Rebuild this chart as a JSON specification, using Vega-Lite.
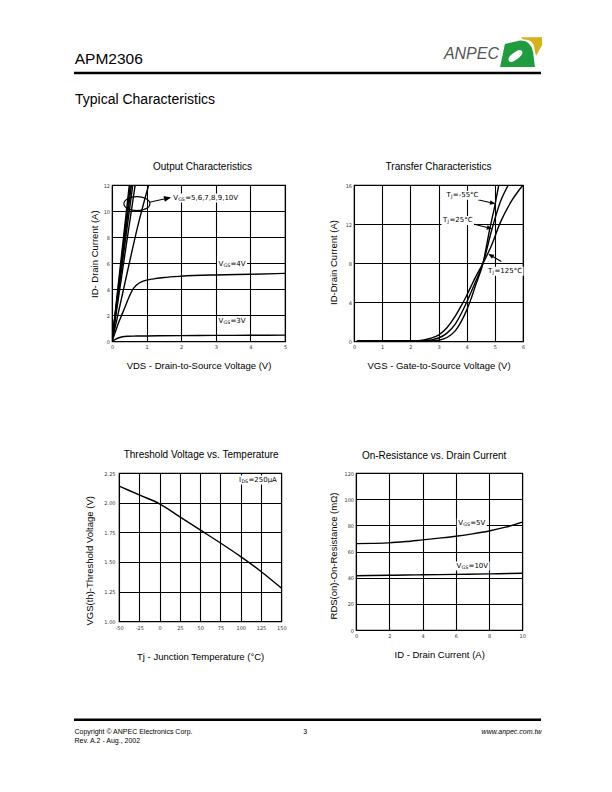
{
  "$schema": "https://vega.github.io/schema/vega-lite/v6.json",
  "background": "white",
  "padding": {"left": 72, "top": 30, "right": 10, "bottom": 10},
  "bounds": "flush",
  "spacing": 0,
  "config": {
    "view": {"stroke": null},
    "font": "Liberation Sans",
    "axis": {"domain": false, "ticks": false, "grid": true, "gridColor": "black", "gridOpacity": 1, "gridWidth": 1.1, "tickCount": 50, "labelFont": "DejaVu Sans", "labelFontSize": 5, "labelColor": "#333", "labelPadding": 3.5, "labelFlush": false, "labelOverlap": false, "titleFont": "Liberation Sans", "titleFontSize": 9.5, "titleFontWeight": "normal", "titleColor": "black"},
    "axisY": {"labelPadding": 2.5},
    "title": {"font": "Liberation Sans", "fontSize": 10, "fontWeight": "normal", "color": "black", "anchor": "middle", "frame": "group", "baseline": "alphabetic"}
  },
  "vconcat": [
    {
      "width": 467,
      "height": 85,
      "layer": [
        {
          "data": {"values": [{"label": "APM2306"}]},
          "mark": {"type": "text", "align": "left", "baseline": "alphabetic", "fontSize": 15.5, "font": "Liberation Sans", "color": "black"},
          "encoding": {
            "x": {"datum": 0.7, "type": "quantitative", "scale": {"domain": [0, 467], "nice": false, "zero": false}, "axis": null},
            "y": {"datum": 34.3, "type": "quantitative", "scale": {"domain": [0, 85], "nice": false, "zero": false, "reverse": true}, "axis": null},
            "text": {"field": "label"}
          }
        },
        {
          "data": {"values": [{"label": "ANPEC"}]},
          "mark": {"type": "text", "align": "right", "baseline": "alphabetic", "fontSize": 16, "fontStyle": "italic", "font": "Liberation Sans", "color": "#555555"},
          "encoding": {
            "x": {"datum": 425, "type": "quantitative", "scale": {"domain": [0, 467], "nice": false, "zero": false}, "axis": null},
            "y": {"datum": 29.3, "type": "quantitative", "scale": {"domain": [0, 85], "nice": false, "zero": false, "reverse": true}, "axis": null},
            "text": {"field": "label"}
          }
        },
        {
          "data": {"values": [{"part": "yellow"}]},
          "mark": {"type": "point", "shape": "M -0.02 -0.7 L 0.98 -0.7 L 0.98 -0.33 L 0.69 0.19 L 0.6 -0.24 Q 0.55 -0.62 0.07 -0.6 Z", "filled": true, "color": "#d5b11e", "size": 1764, "strokeWidth": 0, "opacity": 1},
          "encoding": {
            "x": {"datum": 447.5, "type": "quantitative", "scale": {"domain": [0, 467], "nice": false, "zero": false}, "axis": null},
            "y": {"datum": 22, "type": "quantitative", "scale": {"domain": [0, 85], "nice": false, "zero": false, "reverse": true}, "axis": null}
          }
        },
        {
          "data": {"values": [{"part": "green"}]},
          "mark": {"type": "point", "shape": "M -0.79 -0.38 L -0.07 -0.55 Q 0.45 -0.57 0.55 0 L 0.64 0.71 L -1.02 0.71 Z", "filled": true, "color": "#1f9c3e", "size": 1764, "strokeWidth": 0, "opacity": 1},
          "encoding": {
            "x": {"datum": 447.5, "type": "quantitative", "scale": {"domain": [0, 467], "nice": false, "zero": false}, "axis": null},
            "y": {"datum": 22, "type": "quantitative", "scale": {"domain": [0, 85], "nice": false, "zero": false, "reverse": true}, "axis": null}
          }
        },
        {
          "data": {"values": [{"part": "leaf"}]},
          "mark": {"type": "point", "shape": "M -0.6 0.43 Q -0.7 0.295 -0.4 0.065 Q -0.08 -0.185 0.02 -0.05 Q 0.12 0.085 -0.2 0.335 Q -0.5 0.565 -0.6 0.43 Z", "filled": true, "color": "white", "size": 1764, "strokeWidth": 0, "opacity": 1},
          "encoding": {
            "x": {"datum": 447.5, "type": "quantitative", "scale": {"domain": [0, 467], "nice": false, "zero": false}, "axis": null},
            "y": {"datum": 22, "type": "quantitative", "scale": {"domain": [0, 85], "nice": false, "zero": false, "reverse": true}, "axis": null}
          }
        },
        {
          "data": {"values": [{"part": "rule"}]},
          "mark": {"type": "rule", "color": "black", "strokeWidth": 2.6},
          "encoding": {
            "x": {"datum": 0, "type": "quantitative", "scale": {"domain": [0, 467], "nice": false, "zero": false}, "axis": null},
            "x2": {"datum": 467},
            "y": {"datum": 43, "type": "quantitative", "scale": {"domain": [0, 85], "nice": false, "zero": false, "reverse": true}, "axis": null}
          }
        },
        {
          "data": {"values": [{"label": "Typical Characteristics"}]},
          "mark": {"type": "text", "align": "left", "baseline": "alphabetic", "fontSize": 14, "font": "Liberation Sans", "color": "black"},
          "encoding": {
            "x": {"datum": 1, "type": "quantitative", "scale": {"domain": [0, 467], "nice": false, "zero": false}, "axis": null},
            "y": {"datum": 73.5, "type": "quantitative", "scale": {"domain": [0, 85], "nice": false, "zero": false, "reverse": true}, "axis": null},
            "text": {"field": "label"}
          }
        }
      ]
    },
    {"width": 1, "height": 69.3, "data": {"values": []}, "mark": "point"},
    {
      "bounds": "flush",
      "spacing": 0,
      "hconcat": [
        {"width": 37.3, "height": 1, "data": {"values": []}, "mark": "point"},
        {
          "width": 173,
          "height": 156.4,
          "view": {"stroke": "black", "strokeWidth": 1.2},
          "title": {"text": "Output Characteristics", "offset": 10.8, "dx": 4},
          "layer": [
            {
              "data": {"values": [
                {"vgs": "3V", "vds": 0, "id": 0}, {"vgs": "3V", "vds": 0.1, "id": 0.15}, {"vgs": "3V", "vds": 0.2, "id": 0.28}, {"vgs": "3V", "vds": 0.3, "id": 0.36}, {"vgs": "3V", "vds": 0.45, "id": 0.4}, {"vgs": "3V", "vds": 0.7, "id": 0.41}, {"vgs": "3V", "vds": 1, "id": 0.42}, {"vgs": "3V", "vds": 2, "id": 0.44}, {"vgs": "3V", "vds": 3, "id": 0.46}, {"vgs": "3V", "vds": 4, "id": 0.47}, {"vgs": "3V", "vds": 5, "id": 0.48},
                {"vgs": "4V", "vds": 0, "id": 0}, {"vgs": "4V", "vds": 0.1, "id": 0.75}, {"vgs": "4V", "vds": 0.2, "id": 1.5}, {"vgs": "4V", "vds": 0.3, "id": 2.15}, {"vgs": "4V", "vds": 0.4, "id": 2.8}, {"vgs": "4V", "vds": 0.5, "id": 3.45}, {"vgs": "4V", "vds": 0.6, "id": 4.0}, {"vgs": "4V", "vds": 0.7, "id": 4.3}, {"vgs": "4V", "vds": 0.8, "id": 4.5}, {"vgs": "4V", "vds": 0.9, "id": 4.62}, {"vgs": "4V", "vds": 1.2, "id": 4.8}, {"vgs": "4V", "vds": 1.5, "id": 4.9}, {"vgs": "4V", "vds": 2, "id": 5.0}, {"vgs": "4V", "vds": 3, "id": 5.1}, {"vgs": "4V", "vds": 4, "id": 5.15}, {"vgs": "4V", "vds": 5, "id": 5.22},
                {"vgs": "5V", "vds": 0, "id": 0}, {"vgs": "5V", "vds": 0.45, "id": 5.4}, {"vgs": "5V", "vds": 0.75, "id": 8.9}, {"vgs": "5V", "vds": 1.06, "id": 12},
                {"vgs": "6V", "vds": 0, "id": 0}, {"vgs": "6V", "vds": 0.67, "id": 12},
                {"vgs": "7V", "vds": 0, "id": 0}, {"vgs": "7V", "vds": 0.6, "id": 12},
                {"vgs": "8V", "vds": 0, "id": 0}, {"vgs": "8V", "vds": 0.56, "id": 12},
                {"vgs": "9V", "vds": 0, "id": 0}, {"vgs": "9V", "vds": 0.53, "id": 12},
                {"vgs": "10V", "vds": 0, "id": 0}, {"vgs": "10V", "vds": 0.5, "id": 12}
              ]},
              "mark": {"type": "line", "interpolate": "monotone", "clip": true, "color": "black", "strokeWidth": 1.4},
              "encoding": {
                "x": {"field": "vds", "type": "quantitative", "scale": {"domain": [0, 5], "nice": false, "zero": false}, "axis": {"values": [0, 1, 2, 3, 4, 5], "tickCount": 50, "format": "d", "title": "VDS - Drain-to-Source Voltage (V)", "titleBaseline": "alphabetic", "titleY": 27}},
                "y": {"field": "id", "type": "quantitative", "scale": {"domain": [0, 12], "nice": false, "zero": false}, "axis": {"values": [0, 2, 4, 6, 8, 10, 12], "tickCount": 50, "format": "d", "title": "ID- Drain Current (A)", "titleBaseline": "alphabetic", "titleX": -14.8, "titleY": 68.7}},
                "detail": {"field": "vgs", "type": "nominal"}
              }
            },
            {
              "data": {"values": [{"vds": 0.72, "id": 10.57}]},
              "mark": {"type": "point", "shape": "M -1 0 A 1 0.54 0 1 0 1 0 A 1 0.54 0 1 0 -1 0 Z", "filled": false, "color": "black", "strokeWidth": 1.2, "size": 676, "opacity": 1},
              "encoding": {"x": {"field": "vds", "type": "quantitative"}, "y": {"field": "id", "type": "quantitative"}}
            },
            {
              "data": {"values": [{"vds": 1.08, "id": 10.67, "vds2": 1.67, "id2": 11.02}]},
              "mark": {"type": "rule", "color": "black", "strokeWidth": 1.1},
              "encoding": {"x": {"field": "vds", "type": "quantitative"}, "y": {"field": "id", "type": "quantitative"}, "x2": {"field": "vds2"}, "y2": {"field": "id2"}}
            },
            {
              "data": {"values": [{"vds": 1.705, "id": 11.05}]},
              "mark": {"type": "point", "shape": "M 0 0 L -1 -0.42 L -1 0.42 Z", "filled": true, "color": "black", "size": 196, "angle": -13, "strokeWidth": 0, "opacity": 1},
              "encoding": {"x": {"field": "vds", "type": "quantitative"}, "y": {"field": "id", "type": "quantitative"}}
            },
            {
              "data": {"values": [
                {"pre": "V", "sub": "GS", "rest": "=5,6,7,8,9,10V", "full": "VGS=5,6,7,8,9,10V", "vds": 1.77, "id": 11.0},
                {"pre": "V", "sub": "GS", "rest": "=4V", "full": "VGS=4V", "vds": 3.08, "id": 5.94},
                {"pre": "V", "sub": "GS", "rest": "=3V", "full": "VGS=3V", "vds": 3.08, "id": 1.53}
              ]},
              "encoding": {"x": {"field": "vds", "type": "quantitative"}, "y": {"field": "id", "type": "quantitative"}},
              "layer": [
                {"mark": {"type": "point", "filled": true, "color": "white", "size": 10000, "strokeWidth": 0, "opacity": 1}, "encoding": {"shape": {"field": "full", "type": "nominal", "legend": null, "scale": {"domain": ["VGS=5,6,7,8,9,10V", "VGS=4V", "VGS=3V", "TJ=-55°C", "TJ=25°C", "TJ=125°C", "IDS=250µA", "VGS=5V", "VGS=10V"], "range": ["M -0.03 -0.09 L 1.33 -0.09 L 1.33 0.09 L -0.03 0.09 Z", "M -0.03 -0.09 L 0.57 -0.09 L 0.57 0.09 L -0.03 0.09 Z", "M -0.03 -0.09 L 0.57 -0.09 L 0.57 0.09 L -0.03 0.09 Z", "M -0.03 -0.09 L 0.67 -0.09 L 0.67 0.09 L -0.03 0.09 Z", "M -0.03 -0.09 L 0.62 -0.09 L 0.62 0.09 L -0.03 0.09 Z", "M -0.03 -0.09 L 0.71 -0.09 L 0.71 0.09 L -0.03 0.09 Z", "M -0.03 -0.09 L 0.79 -0.09 L 0.79 0.09 L -0.03 0.09 Z", "M -0.03 -0.09 L 0.57 -0.09 L 0.57 0.09 L -0.03 0.09 Z", "M -0.03 -0.09 L 0.66 -0.09 L 0.66 0.09 L -0.03 0.09 Z"]}}}},
                {"mark": {"type": "text", "align": "left", "baseline": "middle", "font": "DejaVu Sans", "fontSize": 7, "color": "black"}, "encoding": {"text": {"field": "pre"}}},
                {"mark": {"type": "text", "align": "left", "baseline": "middle", "font": "DejaVu Sans", "fontSize": 4.8, "dx": 4.9, "dy": 1.6, "color": "black"}, "encoding": {"text": {"field": "sub"}}},
                {"mark": {"type": "text", "align": "left", "baseline": "middle", "font": "DejaVu Sans", "fontSize": 7, "dx": 11.9, "color": "black"}, "encoding": {"text": {"field": "rest"}}}
              ]
            }
          ]
        },
        {"width": 68.7, "height": 1, "data": {"values": []}, "mark": "point"},
        {
          "width": 169,
          "height": 156.4,
          "view": {"stroke": "black", "strokeWidth": 1.2},
          "title": {"text": "Transfer Characteristics", "offset": 11.2},
          "layer": [
            {
              "data": {"values": [
                {"tj": "-55°C", "vgs": 0.1, "id": 0.05}, {"tj": "-55°C", "vgs": 2.7, "id": 0.05}, {"tj": "-55°C", "vgs": 3.0, "id": 0.12}, {"tj": "-55°C", "vgs": 3.3, "id": 0.4}, {"tj": "-55°C", "vgs": 3.6, "id": 1.1}, {"tj": "-55°C", "vgs": 3.8, "id": 2.0}, {"tj": "-55°C", "vgs": 4.0, "id": 3.2}, {"tj": "-55°C", "vgs": 4.15, "id": 4.3}, {"tj": "-55°C", "vgs": 4.3, "id": 5.6}, {"tj": "-55°C", "vgs": 4.58, "id": 8.0}, {"tj": "-55°C", "vgs": 4.82, "id": 11.5}, {"tj": "-55°C", "vgs": 5.0, "id": 13.9}, {"tj": "-55°C", "vgs": 5.14, "id": 16},
                {"tj": "25°C", "vgs": 0.1, "id": 0.05}, {"tj": "25°C", "vgs": 2.5, "id": 0.07}, {"tj": "25°C", "vgs": 3.0, "id": 0.35}, {"tj": "25°C", "vgs": 3.3, "id": 0.85}, {"tj": "25°C", "vgs": 3.6, "id": 1.8}, {"tj": "25°C", "vgs": 3.8, "id": 2.8}, {"tj": "25°C", "vgs": 4.0, "id": 4.0}, {"tj": "25°C", "vgs": 4.15, "id": 5.0}, {"tj": "25°C", "vgs": 4.3, "id": 6.0}, {"tj": "25°C", "vgs": 4.58, "id": 8.0}, {"tj": "25°C", "vgs": 4.9, "id": 11.5}, {"tj": "25°C", "vgs": 5.2, "id": 14.3}, {"tj": "25°C", "vgs": 5.48, "id": 16},
                {"tj": "125°C", "vgs": 0.1, "id": 0.05}, {"tj": "125°C", "vgs": 2.3, "id": 0.08}, {"tj": "125°C", "vgs": 2.7, "id": 0.3}, {"tj": "125°C", "vgs": 3.0, "id": 0.65}, {"tj": "125°C", "vgs": 3.3, "id": 1.4}, {"tj": "125°C", "vgs": 3.6, "id": 2.6}, {"tj": "125°C", "vgs": 3.8, "id": 3.6}, {"tj": "125°C", "vgs": 4.0, "id": 4.7}, {"tj": "125°C", "vgs": 4.15, "id": 5.6}, {"tj": "125°C", "vgs": 4.3, "id": 6.5}, {"tj": "125°C", "vgs": 4.58, "id": 8.0}, {"tj": "125°C", "vgs": 4.85, "id": 9.6}, {"tj": "125°C", "vgs": 5.2, "id": 12.2}, {"tj": "125°C", "vgs": 5.6, "id": 14.4}, {"tj": "125°C", "vgs": 6.0, "id": 16}
              ]},
              "mark": {"type": "line", "interpolate": "monotone", "clip": true, "color": "black", "strokeWidth": 1.4},
              "encoding": {
                "x": {"field": "vgs", "type": "quantitative", "scale": {"domain": [0, 6], "nice": false, "zero": false}, "axis": {"values": [0, 1, 2, 3, 4, 5, 6], "tickCount": 50, "format": "d", "title": "VGS - Gate-to-Source Voltage (V)", "titleBaseline": "alphabetic", "titleY": 27}},
                "y": {"field": "id", "type": "quantitative", "scale": {"domain": [0, 16], "nice": false, "zero": false}, "axis": {"values": [0, 4, 8, 12, 16], "tickCount": 50, "format": "d", "title": "ID-Drain Current (A)", "titleBaseline": "alphabetic", "titleX": -18, "titleY": 77}},
                "detail": {"field": "tj", "type": "nominal"}
              }
            },
            {
              "data": {"values": [
                {"vgs": 4.40, "id": 14.5, "vgs2": 4.98, "id2": 14.1},
                {"vgs": 4.2, "id": 12.03, "vgs2": 4.87, "id2": 11.55},
                {"vgs": 5.23, "id": 8.17, "vgs2": 4.8, "id2": 8.9}
              ]},
              "mark": {"type": "rule", "color": "black", "strokeWidth": 1.1},
              "encoding": {"x": {"field": "vgs", "type": "quantitative"}, "y": {"field": "id", "type": "quantitative"}, "x2": {"field": "vgs2"}, "y2": {"field": "id2"}}
            },
            {
              "data": {"values": [{"vgs": 5.02, "id": 14.08}]},
              "mark": {"type": "point", "shape": "M 0 0 L -1 -0.42 L -1 0.42 Z", "filled": true, "color": "black", "size": 121, "angle": 13, "strokeWidth": 0, "opacity": 1},
              "encoding": {"x": {"field": "vgs", "type": "quantitative"}, "y": {"field": "id", "type": "quantitative"}}
            },
            {
              "data": {"values": [{"vgs": 4.91, "id": 11.52}]},
              "mark": {"type": "point", "shape": "M 0 0 L -1 -0.42 L -1 0.42 Z", "filled": true, "color": "black", "size": 121, "angle": 14, "strokeWidth": 0, "opacity": 1},
              "encoding": {"x": {"field": "vgs", "type": "quantitative"}, "y": {"field": "id", "type": "quantitative"}}
            },
            {
              "data": {"values": [{"vgs": 4.77, "id": 8.95}]},
              "mark": {"type": "point", "shape": "M 0 0 L -1 -0.42 L -1 0.42 Z", "filled": true, "color": "black", "size": 121, "angle": 210, "strokeWidth": 0, "opacity": 1},
              "encoding": {"x": {"field": "vgs", "type": "quantitative"}, "y": {"field": "id", "type": "quantitative"}}
            },
            {
              "data": {"values": [
                {"pre": "T", "sub": "J", "rest": "=-55°C", "full": "TJ=-55°C", "vgs": 3.28, "id": 14.94},
                {"pre": "T", "sub": "J", "rest": "=25°C", "full": "TJ=25°C", "vgs": 3.16, "id": 12.38},
                {"pre": "T", "sub": "J", "rest": "=125°C", "full": "TJ=125°C", "vgs": 4.76, "id": 7.18}
              ]},
              "encoding": {"x": {"field": "vgs", "type": "quantitative"}, "y": {"field": "id", "type": "quantitative"}},
              "layer": [
                {"mark": {"type": "point", "filled": true, "color": "white", "size": 10000, "strokeWidth": 0, "opacity": 1}, "encoding": {"shape": {"field": "full", "type": "nominal", "legend": null, "scale": {"domain": ["VGS=5,6,7,8,9,10V", "VGS=4V", "VGS=3V", "TJ=-55°C", "TJ=25°C", "TJ=125°C", "IDS=250µA", "VGS=5V", "VGS=10V"], "range": ["M -0.03 -0.09 L 1.33 -0.09 L 1.33 0.09 L -0.03 0.09 Z", "M -0.03 -0.09 L 0.57 -0.09 L 0.57 0.09 L -0.03 0.09 Z", "M -0.03 -0.09 L 0.57 -0.09 L 0.57 0.09 L -0.03 0.09 Z", "M -0.03 -0.09 L 0.67 -0.09 L 0.67 0.09 L -0.03 0.09 Z", "M -0.03 -0.09 L 0.62 -0.09 L 0.62 0.09 L -0.03 0.09 Z", "M -0.03 -0.09 L 0.71 -0.09 L 0.71 0.09 L -0.03 0.09 Z", "M -0.03 -0.09 L 0.79 -0.09 L 0.79 0.09 L -0.03 0.09 Z", "M -0.03 -0.09 L 0.57 -0.09 L 0.57 0.09 L -0.03 0.09 Z", "M -0.03 -0.09 L 0.66 -0.09 L 0.66 0.09 L -0.03 0.09 Z"]}}}},
                {"mark": {"type": "text", "align": "left", "baseline": "middle", "font": "DejaVu Sans", "fontSize": 7, "color": "black"}, "encoding": {"text": {"field": "pre"}}},
                {"mark": {"type": "text", "align": "left", "baseline": "middle", "font": "DejaVu Sans", "fontSize": 4.8, "dx": 4.5, "dy": 1.6, "color": "black"}, "encoding": {"text": {"field": "sub"}}},
                {"mark": {"type": "text", "align": "left", "baseline": "middle", "font": "DejaVu Sans", "fontSize": 7, "dx": 6.4, "color": "black"}, "encoding": {"text": {"field": "rest"}}}
              ]
            }
          ]
        }
      ]
    },
    {"width": 1, "height": 287.2, "data": {"values": []}, "mark": "point"},
    {
      "bounds": "flush",
      "spacing": 0,
      "hconcat": [
        {"width": 44.7, "height": 1, "data": {"values": []}, "mark": "point"},
        {
          "width": 162.3,
          "height": 148.3,
          "view": {"stroke": "black", "strokeWidth": 1.2},
          "title": {"text": "Threshold Voltage vs. Temperature", "offset": 10.7, "dx": 1},
          "layer": [
            {
              "data": {"values": [
                {"tj": -50, "vth": 2.14}, {"tj": -25, "vth": 2.065}, {"tj": 0, "vth": 1.99}, {"tj": 25, "vth": 1.88}, {"tj": 50, "vth": 1.77}, {"tj": 75, "vth": 1.66}, {"tj": 100, "vth": 1.545}, {"tj": 125, "vth": 1.42}, {"tj": 150, "vth": 1.28}
              ]},
              "mark": {"type": "line", "interpolate": "monotone", "clip": true, "color": "black", "strokeWidth": 1.4},
              "encoding": {
                "x": {"field": "tj", "type": "quantitative", "scale": {"domain": [-50, 150], "nice": false, "zero": false}, "axis": {"values": [-50, -25, 0, 25, 50, 75, 100, 125, 150], "tickCount": 50, "labelExpr": "'' + datum.value", "labelPadding": 4.5, "title": "Tj - Junction Temperature (°C)", "titleBaseline": "alphabetic", "titleY": 38.5}},
                "y": {"field": "vth", "type": "quantitative", "scale": {"domain": [1, 2.25], "nice": false, "zero": false}, "axis": {"values": [1, 1.25, 1.5, 1.75, 2, 2.25], "tickCount": 50, "format": ".2f", "labelPadding": 4, "title": "VGS(th)-Threshold Voltage (V)", "titleBaseline": "alphabetic", "titleX": -26.2, "titleY": 87.3}}
              }
            },
            {
              "data": {"values": [
                {"pre": "I", "sub": "DS", "rest": "=250µA", "full": "IDS=250µA", "tj": 98, "vth": 2.19}
              ]},
              "encoding": {"x": {"field": "tj", "type": "quantitative"}, "y": {"field": "vth", "type": "quantitative"}},
              "layer": [
                {"mark": {"type": "point", "filled": true, "color": "white", "size": 10000, "strokeWidth": 0, "opacity": 1}, "encoding": {"shape": {"field": "full", "type": "nominal", "legend": null, "scale": {"domain": ["VGS=5,6,7,8,9,10V", "VGS=4V", "VGS=3V", "TJ=-55°C", "TJ=25°C", "TJ=125°C", "IDS=250µA", "VGS=5V", "VGS=10V"], "range": ["M -0.03 -0.09 L 1.33 -0.09 L 1.33 0.09 L -0.03 0.09 Z", "M -0.03 -0.09 L 0.57 -0.09 L 0.57 0.09 L -0.03 0.09 Z", "M -0.03 -0.09 L 0.57 -0.09 L 0.57 0.09 L -0.03 0.09 Z", "M -0.03 -0.09 L 0.67 -0.09 L 0.67 0.09 L -0.03 0.09 Z", "M -0.03 -0.09 L 0.62 -0.09 L 0.62 0.09 L -0.03 0.09 Z", "M -0.03 -0.09 L 0.71 -0.09 L 0.71 0.09 L -0.03 0.09 Z", "M -0.03 -0.09 L 0.79 -0.09 L 0.79 0.09 L -0.03 0.09 Z", "M -0.03 -0.09 L 0.57 -0.09 L 0.57 0.09 L -0.03 0.09 Z", "M -0.03 -0.09 L 0.66 -0.09 L 0.66 0.09 L -0.03 0.09 Z"]}}}},
                {"mark": {"type": "text", "align": "left", "baseline": "middle", "font": "DejaVu Sans", "fontSize": 7, "color": "black"}, "encoding": {"text": {"field": "pre"}}},
                {"mark": {"type": "text", "align": "left", "baseline": "middle", "font": "DejaVu Sans", "fontSize": 4.8, "dx": 2.3, "dy": 1.6, "color": "black"}, "encoding": {"text": {"field": "sub"}}},
                {"mark": {"type": "text", "align": "left", "baseline": "middle", "font": "DejaVu Sans", "fontSize": 7, "dx": 9.3, "color": "black"}, "encoding": {"text": {"field": "rest"}}}
              ]
            }
          ]
        },
        {"width": 73.7, "height": 1, "data": {"values": []}, "mark": "point"},
        {
          "width": 166.3,
          "height": 157,
          "view": {"stroke": "black", "strokeWidth": 1.2},
          "title": {"text": "On-Resistance vs. Drain Current", "offset": 10, "dx": -5},
          "layer": [
            {
              "data": {"values": [
                {"vgs": "5V", "id": 0, "rds": 66.0}, {"vgs": "5V", "id": 1, "rds": 66.2}, {"vgs": "5V", "id": 2, "rds": 66.6}, {"vgs": "5V", "id": 3, "rds": 67.6}, {"vgs": "5V", "id": 4, "rds": 68.9}, {"vgs": "5V", "id": 5, "rds": 70.2}, {"vgs": "5V", "id": 6, "rds": 71.7}, {"vgs": "5V", "id": 7, "rds": 73.5}, {"vgs": "5V", "id": 8, "rds": 75.7}, {"vgs": "5V", "id": 9, "rds": 78.6}, {"vgs": "5V", "id": 10, "rds": 82.5},
                {"vgs": "10V", "id": 0, "rds": 41.5}, {"vgs": "10V", "id": 2, "rds": 41.8}, {"vgs": "10V", "id": 4, "rds": 42.2}, {"vgs": "10V", "id": 6, "rds": 42.5}, {"vgs": "10V", "id": 8, "rds": 42.9}, {"vgs": "10V", "id": 10, "rds": 43.4}
              ]},
              "mark": {"type": "line", "interpolate": "monotone", "clip": true, "color": "black", "strokeWidth": 1.4},
              "encoding": {
                "x": {"field": "id", "type": "quantitative", "scale": {"domain": [0, 10], "nice": false, "zero": false}, "axis": {"values": [0, 2, 4, 6, 8, 10], "tickCount": 50, "format": "d", "title": "ID - Drain Current (A)", "titleBaseline": "alphabetic", "titleY": 27}},
                "y": {"field": "rds", "type": "quantitative", "scale": {"domain": [0, 120], "nice": false, "zero": false}, "axis": {"values": [0, 20, 40, 60, 80, 100, 120], "tickCount": 50, "format": "d", "title": "RDS(on)-On-Resistance (mΩ)", "titleBaseline": "alphabetic", "titleX": -19.7, "titleY": 82.5}},
                "detail": {"field": "vgs", "type": "nominal"}
              }
            },
            {
              "data": {"values": [
                {"pre": "V", "sub": "GS", "rest": "=5V", "full": "VGS=5V", "id": 6.15, "rds": 81.8},
                {"pre": "V", "sub": "GS", "rest": "=10V", "full": "VGS=10V", "id": 6.05, "rds": 48.9}
              ]},
              "encoding": {"x": {"field": "id", "type": "quantitative"}, "y": {"field": "rds", "type": "quantitative"}},
              "layer": [
                {"mark": {"type": "point", "filled": true, "color": "white", "size": 10000, "strokeWidth": 0, "opacity": 1}, "encoding": {"shape": {"field": "full", "type": "nominal", "legend": null, "scale": {"domain": ["VGS=5,6,7,8,9,10V", "VGS=4V", "VGS=3V", "TJ=-55°C", "TJ=25°C", "TJ=125°C", "IDS=250µA", "VGS=5V", "VGS=10V"], "range": ["M -0.03 -0.09 L 1.33 -0.09 L 1.33 0.09 L -0.03 0.09 Z", "M -0.03 -0.09 L 0.57 -0.09 L 0.57 0.09 L -0.03 0.09 Z", "M -0.03 -0.09 L 0.57 -0.09 L 0.57 0.09 L -0.03 0.09 Z", "M -0.03 -0.09 L 0.67 -0.09 L 0.67 0.09 L -0.03 0.09 Z", "M -0.03 -0.09 L 0.62 -0.09 L 0.62 0.09 L -0.03 0.09 Z", "M -0.03 -0.09 L 0.71 -0.09 L 0.71 0.09 L -0.03 0.09 Z", "M -0.03 -0.09 L 0.79 -0.09 L 0.79 0.09 L -0.03 0.09 Z", "M -0.03 -0.09 L 0.57 -0.09 L 0.57 0.09 L -0.03 0.09 Z", "M -0.03 -0.09 L 0.66 -0.09 L 0.66 0.09 L -0.03 0.09 Z"]}}}},
                {"mark": {"type": "text", "align": "left", "baseline": "middle", "font": "DejaVu Sans", "fontSize": 7, "color": "black"}, "encoding": {"text": {"field": "pre"}}},
                {"mark": {"type": "text", "align": "left", "baseline": "middle", "font": "DejaVu Sans", "fontSize": 4.8, "dx": 4.9, "dy": 1.6, "color": "black"}, "encoding": {"text": {"field": "sub"}}},
                {"mark": {"type": "text", "align": "left", "baseline": "middle", "font": "DejaVu Sans", "fontSize": 7, "dx": 11.9, "color": "black"}, "encoding": {"text": {"field": "rest"}}}
              ]
            }
          ]
        }
      ]
    },
    {"width": 1, "height": 240.5, "data": {"values": []}, "mark": "point"},
    {
      "width": 467,
      "height": 33,
      "layer": [
        {
          "data": {"values": [{"part": "rule"}]},
          "mark": {"type": "rule", "color": "black", "strokeWidth": 2.4},
          "encoding": {
            "x": {"datum": 0, "type": "quantitative", "scale": {"domain": [0, 467], "nice": false, "zero": false}, "axis": null},
            "x2": {"datum": 467},
            "y": {"datum": 5.8, "type": "quantitative", "scale": {"domain": [0, 33], "nice": false, "zero": false, "reverse": true}, "axis": null}
          }
        },
        {
          "data": {"values": [{"label": "Copyright © ANPEC Electronics Corp."}]},
          "mark": {"type": "text", "align": "left", "baseline": "alphabetic", "fontSize": 7, "font": "Liberation Sans", "color": "black"},
          "encoding": {
            "x": {"datum": 0.5, "type": "quantitative", "scale": {"domain": [0, 467], "nice": false, "zero": false}, "axis": null},
            "y": {"datum": 19.7, "type": "quantitative", "scale": {"domain": [0, 33], "nice": false, "zero": false, "reverse": true}, "axis": null},
            "text": {"field": "label"}
          }
        },
        {
          "data": {"values": [{"label": "3"}]},
          "mark": {"type": "text", "align": "center", "baseline": "alphabetic", "fontSize": 7, "font": "Liberation Sans", "color": "black"},
          "encoding": {
            "x": {"datum": 231.3, "type": "quantitative", "scale": {"domain": [0, 467], "nice": false, "zero": false}, "axis": null},
            "y": {"datum": 19.7, "type": "quantitative", "scale": {"domain": [0, 33], "nice": false, "zero": false, "reverse": true}, "axis": null},
            "text": {"field": "label"}
          }
        },
        {
          "data": {"values": [{"label": "www.anpec.com.tw"}]},
          "mark": {"type": "text", "align": "right", "baseline": "alphabetic", "fontSize": 7, "fontStyle": "italic", "font": "Liberation Sans", "color": "black"},
          "encoding": {
            "x": {"datum": 467.5, "type": "quantitative", "scale": {"domain": [0, 467], "nice": false, "zero": false}, "axis": null},
            "y": {"datum": 19.7, "type": "quantitative", "scale": {"domain": [0, 33], "nice": false, "zero": false, "reverse": true}, "axis": null},
            "text": {"field": "label"}
          }
        },
        {
          "data": {"values": [{"label": "Rev. A.2 - Aug., 2002"}]},
          "mark": {"type": "text", "align": "left", "baseline": "alphabetic", "fontSize": 7, "font": "Liberation Sans", "color": "black"},
          "encoding": {
            "x": {"datum": 0.5, "type": "quantitative", "scale": {"domain": [0, 467], "nice": false, "zero": false}, "axis": null},
            "y": {"datum": 28.7, "type": "quantitative", "scale": {"domain": [0, 33], "nice": false, "zero": false, "reverse": true}, "axis": null},
            "text": {"field": "label"}
          }
        }
      ]
    }
  ]
}
